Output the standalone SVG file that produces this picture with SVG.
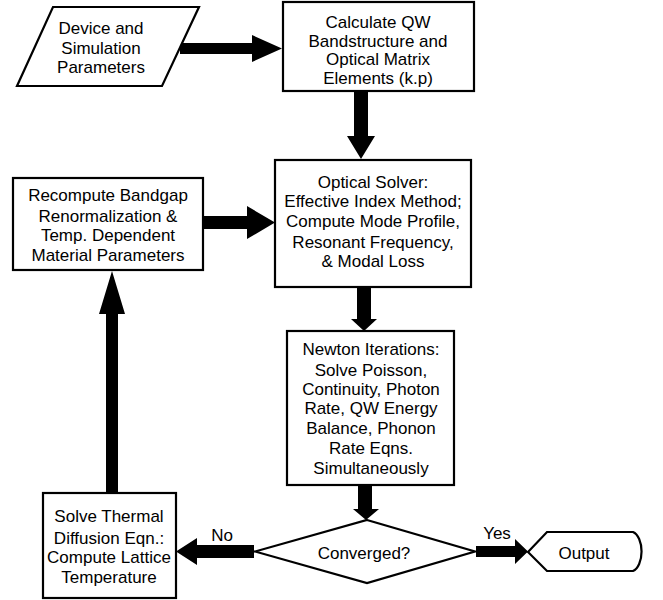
<svg xmlns="http://www.w3.org/2000/svg" width="663" height="600" viewBox="0 0 663 600">
<style>
.n{fill:#fff;stroke:#000;stroke-width:2.2}
.t{font-family:"Liberation Sans",Arial,sans-serif;font-size:17px;fill:#000;text-anchor:middle}
.a{fill:#000;stroke:none}
</style>
<rect width="663" height="600" fill="#fff"/>
<g id="connectors">
<polygon class="a" points="180,43 252,43 252,35 282,48.5 252,62 252,54 180,54"/>
<polygon class="a" points="354,92 368,92 368,136 375,136 361,159 347,136 354,136"/>
<polygon class="a" points="203,216 247,216 247,206 275,222.5 247,239 247,229 203,229"/>
<polygon class="a" points="357,288 371,288 371,319 377,319 364,331 351,319 357,319"/>
<polygon class="a" points="106,493 118,493 118,314 125,314 112,271 99,314 106,314"/>
<polygon class="a" points="358,485 372,485 372,509 379,509 366,520 353,509 358,509"/>
<polygon class="a" points="254,545 197,545 197,538 176,551.5 197,565 197,558 254,558"/>
<polygon class="a" points="476,546 515,546 515,539 528,551.5 515,564 515,557 476,557"/>
</g>
<g id="params">
<polygon class="n" points="53,7 199,7 162,86 17,86"/>
<text class="t" x="101" y="34">Device and</text>
<text class="t" x="101" y="54">Simulation</text>
<text class="t" x="101" y="73">Parameters</text>
</g>
<g id="bandstructure">
<rect class="n" x="283" y="2" width="191" height="89"/>
<text class="t" x="378" y="28">Calculate QW</text>
<text class="t" x="378" y="47">Bandstructure and</text>
<text class="t" x="378" y="65">Optical Matrix</text>
<text class="t" x="378" y="84">Elements (k.p)</text>
</g>
<g id="optical">
<rect class="n" x="275" y="160" width="196" height="127"/>
<text class="t" x="373" y="188">Optical Solver:</text>
<text class="t" x="373" y="207">Effective Index Method;</text>
<text class="t" x="373" y="227">Compute Mode Profile,</text>
<text class="t" x="373" y="248">Resonant Frequency,</text>
<text class="t" x="373" y="267">&amp; Modal Loss</text>
</g>
<g id="recompute">
<rect class="n" x="13" y="178" width="190" height="92"/>
<text class="t" x="108" y="201">Recompute Bandgap</text>
<text class="t" x="108" y="222">Renormalization &amp;</text>
<text class="t" x="108" y="241">Temp. Dependent</text>
<text class="t" x="108" y="261">Material Parameters</text>
</g>
<g id="newton">
<rect class="n" x="287" y="331" width="167" height="154"/>
<text class="t" x="371" y="355">Newton Iterations:</text>
<text class="t" x="371" y="376">Solve Poisson,</text>
<text class="t" x="371" y="395">Continuity, Photon</text>
<text class="t" x="371" y="414">Rate, QW Energy</text>
<text class="t" x="371" y="434">Balance, Phonon</text>
<text class="t" x="371" y="454">Rate Eqns.</text>
<text class="t" x="371" y="474">Simultaneously</text>
</g>
<g id="converged">
<polygon class="n" points="367,520 475,551.5 367,583 255,551.5"/>
<text class="t" x="364" y="559">Converged?</text>
<text class="t" x="222" y="541">No</text>
<text class="t" x="497" y="539">Yes</text>
</g>
<g id="thermal">
<rect class="n" x="43" y="493" width="133" height="105"/>
<text class="t" x="109" y="522">Solve Thermal</text>
<text class="t" x="109" y="544">Diffusion Eqn.:</text>
<text class="t" x="109" y="563">Compute Lattice</text>
<text class="t" x="109" y="583">Temperature</text>
</g>
<g id="output">
<path class="n" d="M528,552 L547,532 L633,532 A11,20 0 0 1 633,571 L547,571 Z"/>
<text class="t" x="584" y="559">Output</text>
</g>
</svg>
